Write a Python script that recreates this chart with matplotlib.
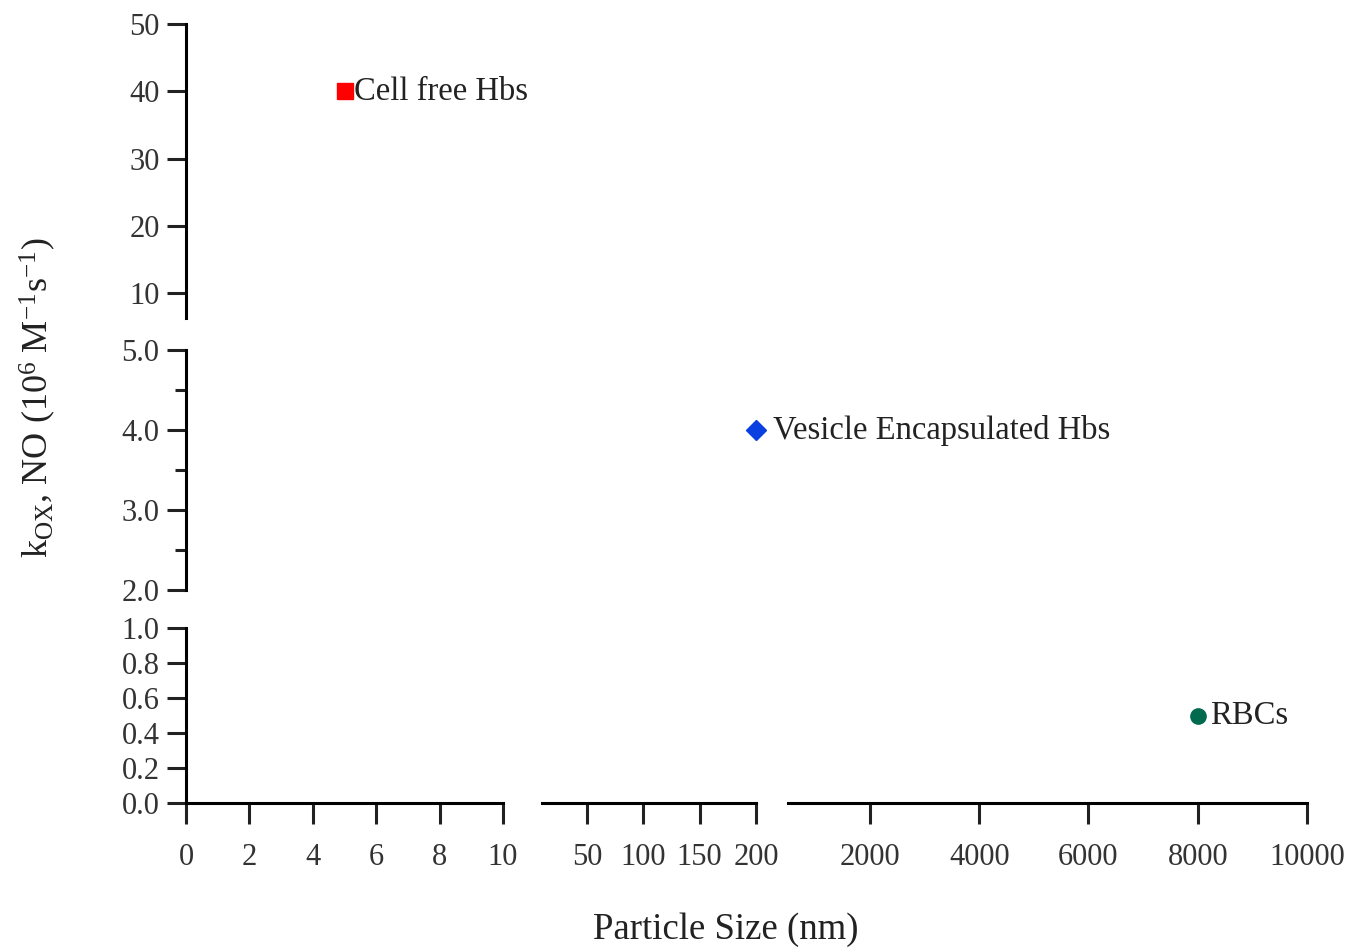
"""Oxidation rate constant of NO vs particle size, broken-axis scatter."""

import matplotlib

matplotlib.use("Agg")
import matplotlib.pyplot as plt

# data
names = ["Cell free Hbs", "Vesicle Encapsulated Hbs", "RBCs"]
sizes = [5, 200, 8000]
kox = [40.0, 4.0, 0.5]
markers = ["s", "D", "o"]
colors = ["#ff0000", "#0a3fe0", "#006a4e"]
cell = [(0, 0), (1, 1), (2, 2)]  # (row, col) of the broken-axis panel each point lives in
label_dx = [7, 12, 9]
marker_ms = [12, 10, 11]

# broken-axis segments
x_ranges = [(0, 10), (10, 200), (500, 10000)]
x_ticks = [[0, 2, 4, 6, 8, 10], [50, 100, 150, 200], [2000, 4000, 6000, 8000, 10000]]
y_ranges = [(6.3, 50), (2.0, 5.0), (0.0, 1.0)]
y_ticks = [[10, 20, 30, 40, 50], [2.0, 3.0, 4.0, 5.0], [0.0, 0.2, 0.4, 0.6, 0.8, 1.0]]
y_minor = [[], [2.5, 3.5, 4.5], []]
y_fmt = ["{:.0f}", "{:.1f}", "{:.1f}"]

plt.rcParams["font.family"] = ["Liberation Serif", "DejaVu Serif"]
plt.rcParams["mathtext.fontset"] = "custom"
plt.rcParams["mathtext.rm"] = "Liberation Serif"
plt.rcParams["mathtext.it"] = "Liberation Serif"
plt.rcParams["mathtext.default"] = "regular"

W, H = 1368, 952
fig = plt.figure(figsize=(W / 100, H / 100), dpi=100)

col_px = [(186, 503), (542, 756), (788, 1307)]
row_px = [(24, 318), (350, 590), (628, 803)]
lw = 2.2

axes = {}
for r, (yt, yb) in enumerate(row_px):
    for c, (xl, xr) in enumerate(col_px):
        ax = fig.add_axes([xl / W, 1 - yb / H, (xr - xl) / W, (yb - yt) / H])
        ax.set_xlim(*x_ranges[c])
        ax.set_ylim(*y_ranges[r])
        ax.patch.set_alpha(0)
        for s in ax.spines.values():
            s.set_visible(False)
        ax.tick_params(which="both", direction="out", width=lw, colors="#222222",
                       labelcolor="#333333", labelsize=22)
        if c == 0:
            ax.spines["left"].set_visible(True)
            ax.spines["left"].set_linewidth(lw)
            ax.set_yticks(y_ticks[r])
            ax.set_yticklabels([y_fmt[r].format(v) for v in y_ticks[r]])
            ax.set_yticks(y_minor[r], minor=True)
            ax.tick_params(axis="y", which="major", length=14, pad=5)
            ax.tick_params(axis="y", which="minor", length=8)
        else:
            ax.set_yticks([])
        if r == 2:
            ax.spines["bottom"].set_visible(True)
            ax.spines["bottom"].set_linewidth(lw)
            ax.set_xticks(x_ticks[c])
            ax.tick_params(axis="x", length=15, pad=14)
        else:
            ax.set_xticks([])
        axes[(r, c)] = ax

for name, x, y, m, col, rc, dx, ms in zip(names, sizes, kox, markers, colors, cell, label_dx, marker_ms):
    ax = axes[rc]
    ax.plot([x], [y], marker=m, color=col, ms=ms, ls="none", clip_on=False, zorder=5)
    ax.annotate(name, (x, y), xytext=(dx, 0), textcoords="offset points", va="center", ha="left",
                fontsize=23.5, color="#222222", annotation_clip=False)

fig.text(726 / W, 1 - 930 / H, "Particle Size (nm)", ha="center", va="center", fontsize=26.5, color="#222222")
fig.text(38 / W, 1 - 398 / H, r"k$_{OX}$, NO (10$^{6}$ M$^{-1}$s$^{-1}$)", ha="center", va="center",
         rotation=90, fontsize=26, color="#222222")

fig.savefig("out.png", dpi=100, facecolor="white")
